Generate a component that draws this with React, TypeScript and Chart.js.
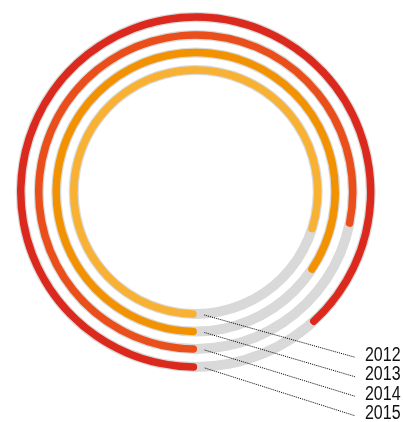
import React, { useEffect, useRef } from "react";
import { Chart, registerables } from "chart.js";

Chart.register(...registerables);

const years = ["2015", "2014", "2013", "2012"];
const values = [88.7, 78.7, 84.9, 80.5];
const colors = ["#dc291e", "#e94e1b", "#f39200", "#f8b133"];
const labelOrder = ["2012", "2013", "2014", "2015"];
const TRACK = "#d9d9d9";

const ringWeight = 7.5;
const gapWeights = [10.5, 10, 10];

export default function App() {
  const ref = useRef<HTMLCanvasElement | null>(null);

  useEffect(() => {
    if (!ref.current) return;
    const datasets: any[] = [];
    years.forEach((y, i) => {
      datasets.push({
        label: y,
        data: [values[i], 100 - values[i]],
        backgroundColor: [colors[i], TRACK],
        borderWidth: 0,
        borderRadius: (c: any) => (c.dataIndex === 0 ? 20 : 0),
        weight: ringWeight,
        isRing: true,
      });
      if (i < gapWeights.length) {
        datasets.push({
          label: "gap" + i,
          data: [1],
          backgroundColor: "rgba(0,0,0,0)",
          borderWidth: 0,
          weight: gapWeights[i],
          isRing: false,
        });
      }
    });

    const trackPlugin = {
      id: "track",
      beforeDatasetsDraw(chart: any) {
        const ctx = chart.ctx;
        chart.data.datasets.forEach((ds: any, di: number) => {
          if (!ds.isRing) return;
          const el = chart.getDatasetMeta(di).data[0] as any;
          if (!el) return;
          const ro = el.outerRadius + 1.25;
          const ri = el.innerRadius - 1.25;
          ctx.save();
          ctx.beginPath();
          ctx.arc(el.x, el.y, ro, 0, Math.PI * 2);
          ctx.arc(el.x, el.y, ri, Math.PI * 2, 0, true);
          ctx.closePath();
          ctx.fillStyle = TRACK;
          ctx.fill();
          ctx.restore();
        });
      },
      afterDatasetsDraw(chart: any) {
        const ctx = chart.ctx;
        const area = chart.chartArea;
        ctx.save();
        labelOrder.forEach((yr, k) => {
          const di = chart.data.datasets.findIndex((d: any) => d.label === yr);
          const el = chart.getDatasetMeta(di).data[0] as any;
          const rc = (el.innerRadius + el.outerRadius) / 2;
          const sx = el.x + rc * Math.cos(el.startAngle) + 7.5;
          const sy = el.y + rc * Math.sin(el.startAngle) + 1;
          const ty = area.bottom - 15.5 + k * 19.5;
          const ex = area.right - 19.5;
          const ey = ty + 2;
          ctx.beginPath();
          ctx.setLineDash([1, 1]);
          ctx.lineWidth = 1;
          ctx.strokeStyle = "#000";
          ctx.moveTo(sx, sy);
          ctx.lineTo(ex, ey);
          ctx.stroke();
          ctx.setLineDash([]);
          ctx.save();
          ctx.translate(ex + 10, ty);
          ctx.scale(0.8, 1);
          ctx.fillStyle = "#111";
          ctx.font = '20px "Liberation Sans Narrow", "Liberation Sans", Arial, sans-serif';
          ctx.textAlign = "left";
          ctx.textBaseline = "middle";
          ctx.fillText(yr, 0, 0);
          ctx.restore();
        });
        ctx.restore();
      },
    };

    const chart = new Chart(ref.current, {
      type: "doughnut",
      data: { labels: ["value", "rest"], datasets },
      options: {
        responsive: false,
        animation: false,
        rotation: 179.5,
        cutout: 118.25,
        layout: { padding: { left: 17, top: 13.25, right: 28.55, bottom: 51.25 } },
        plugins: { legend: { display: false }, tooltip: { enabled: false } },
        events: [],
      } as any,
      plugins: [trackPlugin],
    });
    return () => chart.destroy();
  }, []);

  return (
    <div style={{ position: "fixed", left: 0, top: 0, width: 403, height: 422, background: "#fff" }}>
      <canvas ref={ref} width={403} height={422} style={{ display: "block", width: 403, height: 422 }} />
    </div>
  );
}
